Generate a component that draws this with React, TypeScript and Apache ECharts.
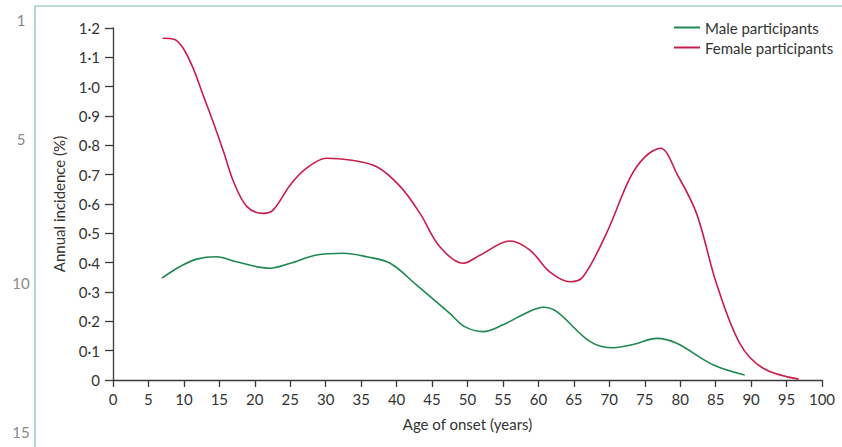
import React, { useEffect, useRef } from "react";
import * as echarts from "echarts";

const maleAges = [6.9, 9.4, 11.8, 14.6, 17.4, 22.1, 25.0, 28.7, 32.5, 35.8, 39.1, 42.8, 47.5, 49.6, 52.2, 55.0, 58.0, 60.7, 62.6, 67.3, 70.6, 73.5, 76.7, 79.5, 84.7, 89.1];
const maleValues = [0.347, 0.386, 0.412, 0.42, 0.403, 0.381, 0.398, 0.426, 0.432, 0.42, 0.398, 0.324, 0.227, 0.182, 0.165, 0.188, 0.225, 0.248, 0.233, 0.131, 0.11, 0.122, 0.142, 0.125, 0.051, 0.017];

const femaleAges = [7.0, 8.7, 9.9, 11.3, 12.7, 14.1, 15.6, 17.0, 18.9, 21.2, 22.6, 25.0, 27.3, 30.1, 33.4, 37.2, 40.5, 43.3, 46.1, 49.4, 51.8, 56.0, 58.8, 61.6, 64.5, 66.3, 69.6, 72.9, 75.0, 77.2, 79.6, 82.3, 85.1, 88.4, 91.7, 96.7];
const femaleValues = [1.165, 1.161, 1.131, 1.063, 0.972, 0.881, 0.778, 0.676, 0.591, 0.568, 0.58, 0.665, 0.722, 0.756, 0.75, 0.727, 0.66, 0.568, 0.454, 0.398, 0.426, 0.474, 0.443, 0.369, 0.335, 0.352, 0.5, 0.688, 0.76, 0.79, 0.7, 0.568, 0.33, 0.125, 0.04, 0.003];

const seriesNames = ["Male participants", "Female participants"];
const lineNumbers = [
  { text: "1", y: 20 },
  { text: "5", y: 139 },
  { text: "10", y: 283 },
  { text: "15", y: 432 },
];

const FONT = "Lato";
const AXIS = "#3a3a3a";
const TEXT = "#333";
const FS = 15;

function fmt(v: number) {
  if (Math.abs(v) < 1e-9) return "0";
  return v.toFixed(1).replace(".", "·");
}

export default function App() {
  const ref = useRef<HTMLDivElement>(null);
  useEffect(() => {
    if (!ref.current) return;
    const chart = echarts.init(ref.current, null, { renderer: "svg" });
    const zip = (a: number[], b: number[]) => a.map((x, i) => [x, b[i]]);
    chart.setOption({
      animation: false,
      textStyle: { fontFamily: FONT },
      grid: { left: 113, right: 20, top: 28, bottom: 67 },
      legend: {
        orient: "vertical",
        left: 674,
        top: 20,
        padding: 0,
        icon: "rect",
        itemWidth: 26,
        itemHeight: 2,
        itemGap: 5,
        textStyle: { fontFamily: FONT, fontSize: FS, color: TEXT },
        data: seriesNames,
      },
      xAxis: {
        type: "value",
        min: 0,
        max: 100,
        interval: 5,
        name: "Age of onset (years)",
        nameLocation: "middle",
        nameGap: 36,
        nameTextStyle: { fontFamily: FONT, fontSize: FS, color: TEXT },
        axisLine: { lineStyle: { color: AXIS, width: 1.3 } },
        axisTick: { length: 7, lineStyle: { color: AXIS, width: 1.3 } },
        axisLabel: { fontFamily: FONT, fontSize: FS, color: TEXT, margin: 11 },
        splitLine: { show: false },
      },
      yAxis: {
        type: "value",
        min: 0,
        max: 1.2,
        interval: 0.1,
        name: "Annual incidence (%)",
        nameLocation: "middle",
        nameGap: 47,
        nameTextStyle: { fontFamily: FONT, fontSize: FS, color: TEXT },
        axisLine: { show: true, lineStyle: { color: AXIS, width: 1.3 } },
        axisTick: { show: true, length: 8, lineStyle: { color: AXIS, width: 1.3 } },
        axisLabel: { fontFamily: FONT, fontSize: FS, color: TEXT, margin: 13, formatter: fmt },
        splitLine: { show: false },
      },
      series: [
        {
          name: seriesNames[0],
          type: "line",
          data: zip(maleAges, maleValues),
          smooth: 0.35,
          showSymbol: false,
          symbol: "none",
          itemStyle: { color: "#1d8850" },
          lineStyle: { color: "#1d8850", width: 1.6 },
        },
        {
          name: seriesNames[1],
          type: "line",
          data: zip(femaleAges, femaleValues),
          smooth: 0.35,
          showSymbol: false,
          symbol: "none",
          itemStyle: { color: "#c81d4c" },
          lineStyle: { color: "#c81d4c", width: 1.6 },
        },
      ],
      graphic: [
        { type: "line", shape: { x1: 35, y1: 6, x2: 842, y2: 6 }, style: { stroke: "#7fc0a2", lineWidth: 1.2 } },
        { type: "line", shape: { x1: 35, y1: 6, x2: 35, y2: 447 }, style: { stroke: "#7fc0a2", lineWidth: 1.2 } },
        ...lineNumbers.map((l) => ({
          type: "text",
          x: 21,
          y: l.y,
          style: {
            text: l.text,
            fontFamily: FONT,
            fontSize: 15,
            fill: "#8a8a8a",
            align: "center",
            verticalAlign: "middle",
          },
        })),
      ],
    });
    return () => chart.dispose();
  }, []);
  return (
    <div
      ref={ref}
      style={{ position: "fixed", left: 0, top: 0, width: 842, height: 447, background: "#fff" }}
    />
  );
}
